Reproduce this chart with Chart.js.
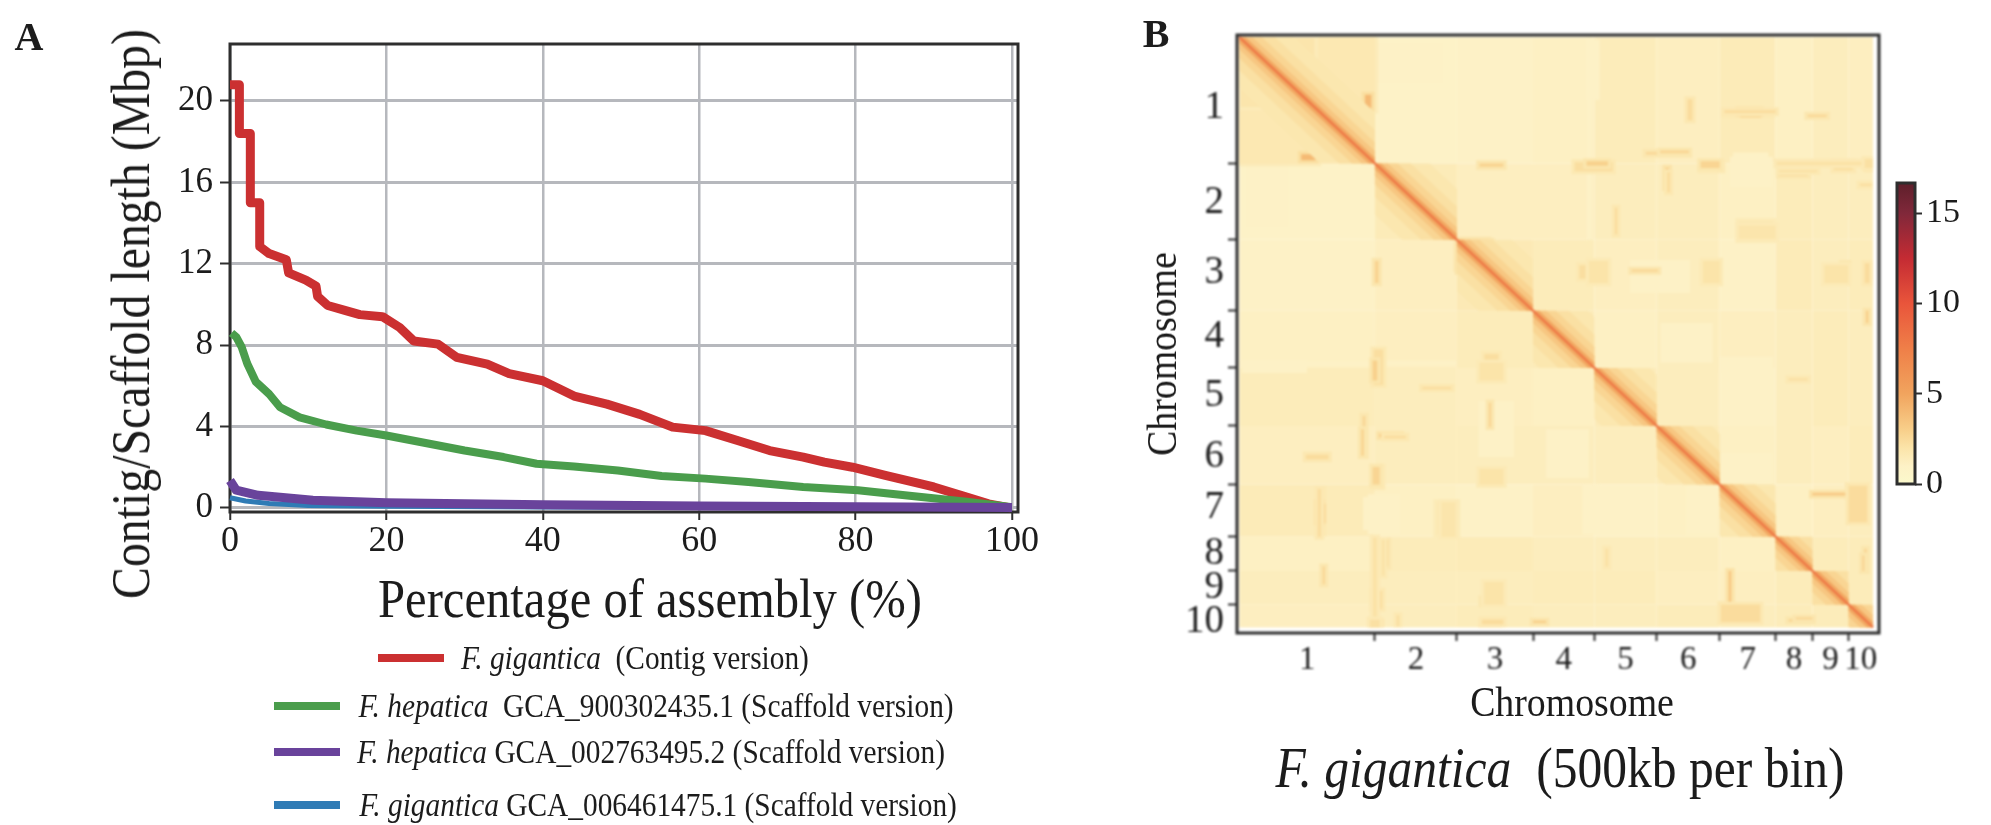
<!DOCTYPE html>
<html>
<head>
<meta charset="utf-8">
<title>Assembly continuity and Hi-C map</title>
<script src="https://cdn.jsdelivr.net/npm/chart.js@4/dist/chart.umd.min.js"></script>
<style>
  html, body { margin: 0; background: #fff; overflow: hidden; }
  body { width: 1991px; height: 825px; position: relative; font-family: "Liberation Serif", serif; color: #1c1c1c; }
  .box { position: absolute; filter: blur(0.7px); }
  .txt { position: absolute; white-space: pre; transform: translate(-50%, -50%); filter: blur(0.5px); }
  .swatch { position: absolute; height: 8px; filter: blur(0.7px); }
</style>
</head>
<body>
<div class="box" style="left:0;top:0;width:1100px;height:640px"><canvas id="curveChart"></canvas></div>
<div class="box" style="left:1100px;top:0;width:790px;height:680px;filter:blur(1px)"><canvas id="heatChart"></canvas></div>
<div class="box" style="left:1880px;top:160px;width:111px;height:360px"><canvas id="barChart"></canvas></div>
<script>
// Panel A: contig / scaffold length curves
const redX = [0, 1.2, 1.2, 2.6, 2.6, 3.8, 3.8, 5, 7.2, 7.5, 9.7, 11, 11.2, 12.5, 14.8, 16.6, 19.5, 21.7, 23.5, 26.6, 29, 32.9, 35.7, 40, 44, 48.2, 52.4, 56.6, 60.8, 65, 69, 73.3, 76, 79.6, 83.8, 90, 94.2, 97, 99.8];
const redY = [20.8, 20.8, 18.4, 18.4, 15, 15, 12.85, 12.5, 12.2, 11.55, 11.2, 10.9, 10.4, 9.95, 9.7, 9.5, 9.4, 8.87, 8.2, 8.05, 7.4, 7.07, 6.6, 6.25, 5.5, 5.1, 4.6, 3.97, 3.8, 3.3, 2.82, 2.5, 2.25, 2, 1.6, 1.03, 0.54, 0.2, 0];
const greenX = [0.2, 0.8, 1.5, 2.2, 3.3, 5, 6.4, 8.9, 12.3, 16.2, 20, 24.5, 30, 35, 39.2, 44, 49.6, 55.2, 60.8, 66.3, 73.3, 80.3, 87.2, 94.2, 99.8];
const greenY = [8.6, 8.4, 7.9, 7.1, 6.2, 5.6, 4.95, 4.45, 4.1, 3.8, 3.56, 3.23, 2.82, 2.5, 2.17, 2.04, 1.84, 1.57, 1.44, 1.27, 1.03, 0.87, 0.59, 0.3, 0.05];
const purpleX = [0, 0.8, 3.6, 10.6, 20, 40, 60, 80, 100];
const purpleY = [1.35, 0.87, 0.62, 0.38, 0.26, 0.16, 0.1, 0.06, 0.02];
const blueX = [0, 2, 5, 10, 20, 40, 60, 100];
const blueY = [0.5, 0.34, 0.22, 0.12, 0.08, 0.04, 0.02, 0];
const curveXTicks = [0, 20, 40, 60, 80, 100];
const curveYTicks = [0, 4, 8, 12, 16, 20];

// Panel B: chromosome ends in bins, block levels, and the spots seen off the diagonal
const chromNames = ['1', '2', '3', '4', '5', '6', '7', '8', '9', '10'];
const chromBounds = [10, 580, 925, 1245, 1503, 1765, 2030, 2265, 2420, 2572, 2675];
const chromLabelRows = [330, 759, 1075, 1361, 1631, 1906, 2136, 2342, 2497, 2650];
const blockValues = [
  [1.9, 0.9, 1.0, 1.1, 1.4, 1.2, 1.5, 1.1, 1.3, 1.2],
  [0.9, 1.5, 1.2, 1.2, 1.3, 1.3, 1.1, 1.4, 1.3, 1.3],
  [1.0, 1.2, 1.6, 1.4, 1.2, 1.3, 1.0, 1.5, 1.3, 1.4],
  [1.1, 1.2, 1.4, 1.5, 1.1, 1.3, 1.2, 1.3, 1.4, 1.3],
  [1.4, 1.3, 1.2, 1.1, 1.5, 1.3, 1.0, 1.3, 1.4, 1.3],
  [1.2, 1.3, 1.3, 1.3, 1.3, 1.5, 1.1, 1.3, 1.2, 1.4],
  [1.5, 1.1, 1.0, 1.2, 1.0, 1.1, 1.6, 1.1, 1.2, 1.3],
  [1.1, 1.4, 1.5, 1.3, 1.3, 1.3, 1.1, 1.6, 1.4, 1.4],
  [1.3, 1.3, 1.3, 1.4, 1.4, 1.2, 1.2, 1.4, 1.7, 1.4],
  [1.2, 1.3, 1.4, 1.3, 1.3, 1.4, 1.3, 1.4, 1.4, 1.9]
];
const palePatches = [
  [26, 294, 1030, 1150, 0.95], [560, 866, 36, 216, 0.95], [2073, 2254, 550, 686, 0.95],
  [2073, 2254, 1016, 1165, 0.95], [1653, 1905, 1016, 1165, 1.0], [20, 294, 1467, 1526, 0.95],
  [1050, 1120, 1797, 1887, 0.95], [530, 615, 2086, 2235, 0.95], [980, 1135, 2086, 2250, 1.0],
  [2031, 2254, 1887, 2022, 0.95], [2031, 2254, 1453, 1526, 0.95], [1470, 1495, 10, 925, 1.0],
  [340, 352, 10, 560, 1.0], [1050, 1240, 20, 200, 1.0], [1300, 1480, 1780, 2000, 1.0]
];
const heatSpots = [
  [10, 340, 340, 580, 1.7], [538, 565, 270, 330, 4.0], [1020, 1120, 580, 595, 2.8],
  [930, 1056, 925, 1070, 3.0], [2050, 2250, 345, 362, 2.3], [2130, 2190, 347, 360, 4.6],
  [2400, 2480, 360, 370, 2.6], [1895, 1915, 290, 385, 2.4], [1720, 1900, 528, 540, 2.6],
  [1420, 1580, 575, 615, 2.3], [1950, 2040, 575, 610, 2.2], [1803, 1815, 600, 690, 3.4],
  [2280, 2400, 615, 635, 2.6], [2510, 2590, 570, 610, 2.4], [2650, 2672, 570, 605, 3.2],
  [2620, 2670, 672, 682, 2.3], [1440, 1560, 1040, 1100, 2.3], [1960, 2030, 1040, 1100, 2.2],
  [2545, 2570, 1030, 1100, 2.7], [2650, 2672, 1030, 1100, 3.2], [2645, 2655, 1245, 1300, 3.0],
  [2110, 2255, 840, 925, 1.8], [2570, 2640, 2035, 2085, 2.6], [2420, 2570, 2070, 2078, 3.0],
  [2068, 2078, 2420, 2560, 3.4], [2035, 2200, 2573, 2650, 2.4], [2320, 2420, 2638, 2648, 2.7],
  [2630, 2638, 2350, 2420, 2.8], [1550, 1560, 2320, 2400, 2.2], [570, 590, 1470, 1560, 2.9],
  [1020, 1120, 1480, 1560, 2.0], [780, 900, 1590, 1598, 2.5], [1060, 1068, 1660, 1770, 2.8],
  [620, 710, 1810, 1820, 2.5], [522, 534, 1780, 1900, 2.7], [570, 600, 1950, 2030, 2.7],
  [1020, 1120, 1960, 2030, 2.0], [338, 354, 2110, 2200, 4.6], [340, 352, 2050, 2265, 2.4],
  [860, 920, 2110, 2265, 1.9], [572, 588, 2270, 2640, 2.1], [612, 618, 2280, 2440, 2.3],
  [1040, 1120, 2470, 2570, 2.0], [1030, 1120, 2640, 2660, 2.4], [560, 600, 2640, 2675, 2.2]
];
const haloWidths = [230, 150, 95, 55, 26];
const haloValues = [1.8, 2.2, 2.7, 3.4, 4.8];
const diagonalValue = 8;

// Colour bar
const colorLevels = [0, 1, 2, 3, 5, 7.5, 10, 12.5, 15, 16.67];
const colorHex = ['#fbf9cc', '#fdf1c6', '#fbe4a9', '#f8cf8a', '#f1a45e', '#ef7f48', '#e9553b', '#c42b33', '#80283a', '#5e1f2b'];
const colorTicks = [0, 5, 10, 15];

// Text
const seriesColors = ['#cb3031', '#4a9d4c', '#69439b', '#2f7bb5'];
const legendRows = [
  ['F. gigantica', '  (Contig version)'],
  ['F. hepatica', '  GCA_900302435.1 (Scaffold version)'],
  ['F. hepatica', ' GCA_002763495.2 (Scaffold version)'],
  ['F. gigantica', ' GCA_006461475.1 (Scaffold version)']
];
const curveXTitle = 'Percentage of assembly (%)';
const curveYTitle = 'Contig/Scaffold length (Mbp)';
const heatTitle = 'Chromosome';

const darkLine = '#2e2e2e';
const gridLine = '#b6b8bd';
const pinAxis = (size) => (scale) => {
  if (scale.isHorizontal()) { scale.height = size; scale.paddingLeft = 0; scale.paddingRight = 0; }
  else { scale.width = size; scale.paddingTop = 0; scale.paddingBottom = 0; }
};
const frameDraw = (chart) => {
  const a = chart.chartArea, c = chart.ctx;
  c.save();
  c.strokeStyle = darkLine;
  c.lineWidth = 3;
  c.strokeRect(a.left, a.top, a.right - a.left, a.bottom - a.top);
  c.restore();
};
Chart.defaults.animation = false;
Chart.defaults.responsive = true;
Chart.defaults.maintainAspectRatio = false;
Chart.defaults.font.family = '"Liberation Serif", serif';
Chart.defaults.color = '#1c1c1c';
Chart.defaults.plugins.legend.display = false;
Chart.defaults.plugins.tooltip.enabled = false;

function toPoints(xs, ys) {
  return xs.map((x, i) => ({x: x, y: ys[i]}));
}
function colorFor(v) {
  let i = 0;
  while (i < colorLevels.length - 2 && v > colorLevels[i + 1]) i++;
  const t = Math.min(1, (v - colorLevels[i]) / (colorLevels[i + 1] - colorLevels[i]));
  const rgb = (h) => [1, 3, 5].map(p => parseInt(h.substr(p, 2), 16));
  const a = rgb(colorHex[i]), b = rgb(colorHex[i + 1]);
  return 'rgb(' + a.map((c, k) => Math.round(c + (b[k] - c) * t)).join(',') + ')';
}

// Panel A chart, first dataset is drawn on top
const curveSeries = [
  {x: purpleX, y: purpleY, color: seriesColors[2], width: 9},
  {x: greenX, y: greenY, color: seriesColors[1], width: 8},
  {x: redX, y: redY, color: seriesColors[0], width: 9},
  {x: blueX, y: blueY, color: seriesColors[3], width: 5}
];
new Chart(document.getElementById('curveChart'), {
  type: 'scatter',
  data: {
    datasets: curveSeries.map(s => ({
      data: toPoints(s.x, s.y),
      showLine: true,
      borderColor: s.color,
      borderWidth: s.width,
      borderJoinStyle: 'round',
      pointRadius: 0,
      tension: 0,
      clip: 6
    }))
  },
  options: {
    layout: {padding: {top: 44, right: 82}},
    scales: {
      x: {
        type: 'linear', min: 0, max: 100.77,
        afterFit: pinAxis(128),
        afterBuildTicks: (axis) => { axis.ticks = curveXTicks.map(v => ({value: v})); },
        grid: {color: gridLine, lineWidth: 2.5, tickColor: darkLine, tickLength: 8, tickWidth: 2},
        border: {display: false},
        ticks: {font: {size: 36}, padding: 0, maxRotation: 0, autoSkip: false, color: '#1c1c1c'}
      },
      y: {
        min: -0.2, max: 22.8,
        afterFit: pinAxis(230),
        afterBuildTicks: (axis) => { axis.ticks = curveYTicks.map(v => ({value: v})); },
        grid: {color: gridLine, lineWidth: 3, tickColor: darkLine, tickLength: 10, tickWidth: 2},
        border: {display: false},
        ticks: {font: {size: 35}, padding: 7, autoSkip: false, color: '#1c1c1c'}
      }
    }
  },
  plugins: [{id: 'frame', beforeDatasetsDraw: frameDraw}]
});

// Panel B chart: each block, spot and band is a closed line dataset filled in data space
function zone(points, value) {
  return {
    data: points,
    showLine: true,
    borderWidth: 0,
    pointRadius: 0,
    tension: 0,
    fill: 'shape',
    backgroundColor: colorFor(value)
  };
}
function rect(x0, x1, y0, y1, value) {
  return zone(toPoints([x0, x1, x1, x0, x0], [y0, y0, y1, y1, y0]), value);
}
const inMap = (v) => Math.max(chromBounds[0], Math.min(chromBounds[10], v));
const heatLayers = [];
blockValues.forEach((row, i) => row.forEach((v, j) => {
  heatLayers.push(rect(chromBounds[j], chromBounds[j + 1], chromBounds[i], chromBounds[i + 1], v));
}));
palePatches.forEach(s => {
  heatLayers.push(rect(s[0], s[1], s[2], s[3], s[4]));
  heatLayers.push(rect(s[2], s[3], s[0], s[1], s[4]));
});
heatSpots.forEach(s => {
  // a wider, fainter rect under every spot keeps its edge soft
  const soft = 1.3 + (s[4] - 1.3) * 0.35;
  const m = 14;
  heatLayers.push(rect(inMap(s[0] - m), inMap(s[1] + m), inMap(s[2] - m), inMap(s[3] + m), soft));
  heatLayers.push(rect(inMap(s[2] - m), inMap(s[3] + m), inMap(s[0] - m), inMap(s[1] + m), soft));
  heatLayers.push(rect(s[0], s[1], s[2], s[3], s[4]));
  heatLayers.push(rect(s[2], s[3], s[0], s[1], s[4]));
});
chromNames.forEach((name, i) => {
  const a = chromBounds[i], b = chromBounds[i + 1];
  haloWidths.forEach((w, k) => {
    const d = Math.min(w, b - a);
    heatLayers.push(zone(toPoints([a, a + d, b, b, b - d, a, a], [a, a, b - d, b, b, a + d, a]), haloValues[k]));
  });
});
heatLayers.push({
  data: toPoints(chromBounds, chromBounds),
  showLine: true,
  borderColor: colorFor(diagonalValue),
  borderWidth: 2.4,
  pointRadius: 0,
  tension: 0
});
const chromEnds = chromBounds.slice(1, 10);
const chromMids = chromNames.map((n, i) => (chromBounds[i] + chromBounds[i + 1]) / 2);
const chromTickColor = (labelAt) => (ctx) => (ctx.tick && labelAt.indexOf(ctx.tick.value) >= 0 ? 'transparent' : darkLine);
const chromLabel = (labelAt) => (v) => {
  const i = labelAt.indexOf(v);
  return i < 0 ? '' : chromNames[i];
};
new Chart(document.getElementById('heatChart'), {
  type: 'scatter',
  data: {datasets: heatLayers.slice().reverse()},
  options: {
    layout: {padding: {top: 35, right: 11}},
    scales: {
      x: {
        type: 'linear', min: 0, max: 2700,
        afterFit: pinAxis(47),
        afterBuildTicks: (axis) => { axis.ticks = chromMids.concat(chromEnds).map(v => ({value: v})); },
        grid: {drawOnChartArea: false, tickColor: chromTickColor(chromMids), tickLength: 8, tickWidth: 2},
        border: {display: false},
        ticks: {font: {size: 33}, padding: 0, maxRotation: 0, autoSkip: false, callback: chromLabel(chromMids)}
      },
      y: {
        reverse: true, min: 0, max: 2700,
        afterFit: pinAxis(137),
        afterBuildTicks: (axis) => { axis.ticks = chromLabelRows.concat(chromEnds).map(v => ({value: v})); },
        grid: {drawOnChartArea: false, tickColor: chromTickColor(chromLabelRows), tickLength: 9, tickWidth: 2},
        border: {display: false},
        ticks: {font: {size: 39}, padding: 4, autoSkip: false, callback: chromLabel(chromLabelRows)}
      }
    }
  },
  plugins: [{id: 'frame', afterDatasetsDraw: frameDraw}]
});

// Colour bar chart
new Chart(document.getElementById('barChart'), {
  type: 'bar',
  data: {
    labels: [''],
    datasets: [{
      data: [[0, colorLevels[colorLevels.length - 1]]],
      barPercentage: 1,
      categoryPercentage: 1,
      backgroundColor: (ctx) => {
        const area = ctx.chart.chartArea;
        if (!area) return colorHex[0];
        const g = ctx.chart.ctx.createLinearGradient(0, area.bottom, 0, area.top);
        const top = colorLevels[colorLevels.length - 1];
        colorLevels.forEach((v, i) => g.addColorStop(v / top, colorHex[i]));
        return g;
      }
    }]
  },
  options: {
    layout: {padding: {left: 17, top: 23, bottom: 36}},
    scales: {
      x: {display: false},
      y: {
        position: 'right', min: 0, max: colorLevels[colorLevels.length - 1],
        afterFit: pinAxis(76),
        afterBuildTicks: (axis) => { axis.ticks = colorTicks.map(v => ({value: v})); },
        grid: {drawOnChartArea: false, tickColor: darkLine, tickLength: 7, tickWidth: 2},
        border: {display: false},
        ticks: {font: {size: 34}, padding: 4, autoSkip: false}
      }
    }
  },
  plugins: [{id: 'frame', afterDatasetsDraw: frameDraw}]
});

// Text and legend outside the plot areas
function addText(html, x, y, size, squeeze, rotated) {
  const el = document.createElement('div');
  el.className = 'txt';
  el.innerHTML = html;
  el.style.left = x + 'px';
  el.style.top = y + 'px';
  el.style.fontSize = size + 'px';
  el.style.transform = 'translate(-50%, -50%)' + (rotated ? ' rotate(-90deg)' : '') + ' scaleX(' + squeeze + ')';
  document.body.appendChild(el);
}
addText('<b>A</b>', 29, 36, 40, 1);
addText('<b>B</b>', 1156, 33, 40, 1);
addText(curveXTitle, 650, 599, 54, 0.9);
addText(curveYTitle, 131, 314, 54, 0.885, true);
addText(heatTitle, 1572, 702, 42, 0.9);
addText(heatTitle, 1162, 354, 42, 0.9, true);
addText('<i>F. gigantica</i>  (500kb per bin)', 1560, 768, 56, 0.885);

const legendLeft = [378, 274, 274, 274];
const legendTextX = [635, 656, 651, 658];
const legendY = [658, 706, 752, 805];
legendRows.forEach((row, i) => {
  const sw = document.createElement('div');
  sw.className = 'swatch';
  sw.style.left = legendLeft[i] + 'px';
  sw.style.width = '66px';
  sw.style.top = (legendY[i] - 4) + 'px';
  sw.style.background = seriesColors[i];
  document.body.appendChild(sw);
  addText('<i>' + row[0] + '</i>' + row[1], legendTextX[i], legendY[i], 33, 0.89);
});
</script>
</body>
</html>
